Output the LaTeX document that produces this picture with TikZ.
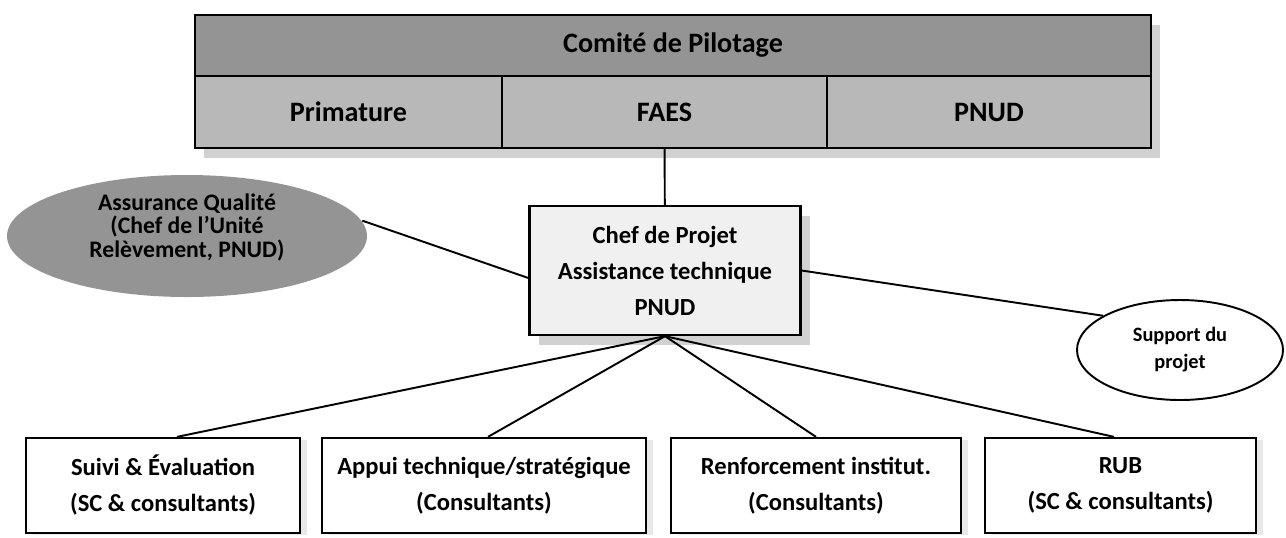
\documentclass[tikz,border=0pt]{standalone}
\usepackage{fontspec}
\setmainfont{Carlito}
\usetikzlibrary{shapes.geometric, shadows}

\begin{document}
\begin{tikzpicture}[x=0.2mm, y=-0.2mm, line width=1.1pt]
    \tikzstyle{box}=[rectangle, draw=black, line width=1.3pt, align=center, inner sep=0pt, font=\bfseries\fontsize{14}{20.5}\selectfont]
    \tikzstyle{shade}=[drop shadow={opacity=1, fill=black!18, shadow xshift=1.8mm, shadow yshift=-2mm}]
    \tikzstyle{cell}=[box, shade, fill=black!28, minimum height=14.4mm, font=\bfseries\fontsize{16}{19}\selectfont]
    \tikzstyle{head}=[cell, fill=black!42, minimum height=12.2mm]
    \tikzstyle{team}=[box, fill=white, minimum height=19mm, drop shadow={opacity=1, fill=black!9, shadow xshift=1.4mm, shadow yshift=-0.4mm}]
    \tikzstyle{bubble}=[ellipse, align=center, inner sep=0pt]

    \useasboundingbox (0,0) rectangle (1286,537);

    % comite de pilotage
    \node [head, minimum width=191.2mm] (comite) at (673,45.5) {Comité de Pilotage};
    \node [cell, minimum width=61.4mm] (primature) at (348.5,112) {Primature};
    \node [cell, minimum width=65mm] (faes) at (664.5,112) {FAES};
    \node [cell, minimum width=64.8mm] (pnud) at (989,112) {PNUD};

    \node [box, shade, fill=black!6, minimum width=54.2mm, minimum height=25.8mm] (chef) at (665,270.5) {Chef de Projet\\Assistance technique\\PNUD};

    \node [bubble, fill=black!42, minimum width=72mm, minimum height=24.4mm, text depth=12pt, font=\bfseries\fontsize{13.5}{13.5}\selectfont] (qualite) at (187,236) {Assurance Qualité\\(Chef de l’Unité\\Relèvement, PNUD)};
    \node [bubble, draw=black, fill=white, minimum width=41.2mm, minimum height=20mm, font=\bfseries\fontsize{11.6}{15.3}\selectfont] (support) at (1180,350) {Support du\\projet};

    % equipes
    \node [team, minimum width=54.8mm] (suivi) at (163,485.5) {Suivi \& Évaluation\\(SC \& consultants)};
    \node [team, minimum width=64.8mm] (appui) at (484,485.5) {Appui technique/stratégique\\(Consultants)};
    \node [team, minimum width=58mm] (renfo) at (816,485.5) {Renforcement institut.\\(Consultants)};
    \node [team, minimum width=54.2mm] (rub) at (1120.5,485.5) {RUB\\(SC \& consultants)};

    \draw (faes) -- (chef);
    \draw (qualite.5) -- ([yshift=-1.5mm]chef.west);
    \draw (chef.east) -- (support.156);
    \draw (chef.south) -- ([xshift=2.8mm]suivi.north);
    \draw (chef.south) -- ([xshift=0.8mm]appui.north);
    \draw (chef.south) -- (renfo.north);
    \draw (chef.south) -- ([xshift=-1.3mm]rub.north);
\end{tikzpicture}
\end{document}
